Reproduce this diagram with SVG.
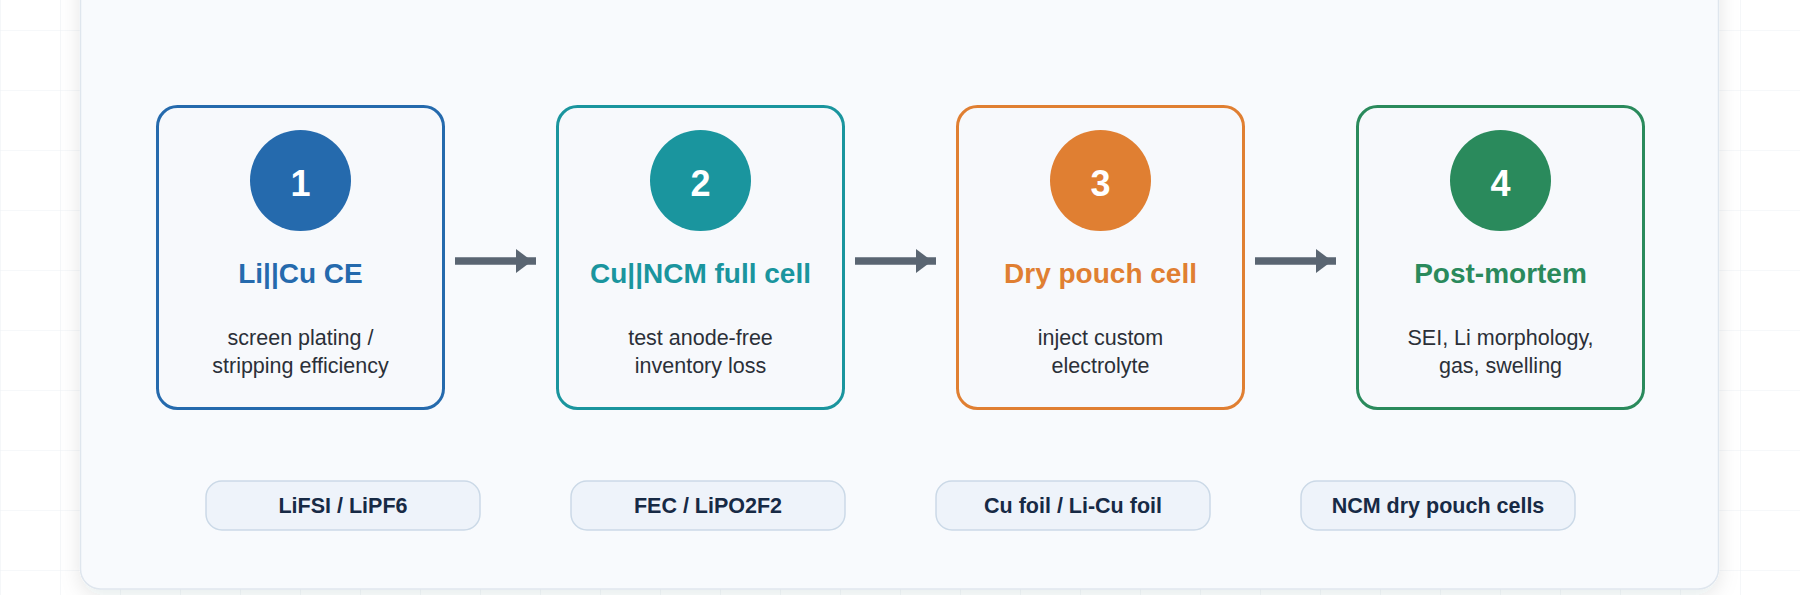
<svg xmlns="http://www.w3.org/2000/svg" width="1800" height="595" viewBox="0 0 1800 595">
  <defs>
    <pattern id="grid" x="0" y="30" width="60" height="60" patternUnits="userSpaceOnUse">
      <path d="M60 0 H0 V60" fill="none" stroke="#eef1f5" stroke-width="1.2"/>
    </pattern>
    <filter id="shadow" x="-5%" y="-10%" width="110%" height="125%">
      <feDropShadow dx="0" dy="6" stdDeviation="10" flood-color="#1e293b" flood-opacity="0.10"/>
    </filter>
    <marker id="arrow" viewBox="0 0 16 24" markerWidth="16" markerHeight="24" refX="20" refY="12" orient="auto" markerUnits="userSpaceOnUse">
      <path d="M0 0 L16 12 L0 24 Z" fill="#5a6572"/>
    </marker>
  </defs>
  <style>
    .box { fill: #f7f9fc; stroke-width: 3; }
    .num { font-family: "Liberation Sans", Arial, sans-serif; font-weight: bold; font-size: 36px; fill: #ffffff; text-anchor: middle; }
    .title { font-family: "Liberation Sans", Arial, sans-serif; font-weight: bold; font-size: 28px; text-anchor: middle; }
    .desc { font-family: "Liberation Sans", Arial, sans-serif; font-size: 21.5px; fill: #2b3038; text-anchor: middle; }
    .pill { fill: #eef3fa; stroke: #cbd9e7; stroke-width: 1.5; }
    .pilltxt { font-family: "Liberation Sans", Arial, sans-serif; font-weight: bold; font-size: 21.5px; fill: #172a45; text-anchor: middle; }
    .conn { stroke: #5a6572; stroke-width: 7.5; fill: none; marker-end: url(#arrow); }
  </style>
  <rect x="0" y="0" width="1800" height="595" fill="#ffffff"/>
  <rect x="0" y="0" width="1800" height="595" fill="url(#grid)"/>
  <rect id="card" x="80.5" y="-40" width="1638" height="629" rx="20" fill="#f8fafd" stroke="#dfe6ee" stroke-width="1.5" filter="url(#shadow)"/>

  <g id="connectors">
    <line class="conn" x1="455" y1="261" x2="536" y2="261"/>
    <line class="conn" x1="855" y1="261" x2="936" y2="261"/>
    <line class="conn" x1="1255" y1="261" x2="1336" y2="261"/>
  </g>

  <g id="node1">
    <rect class="box" x="157.5" y="106.5" width="286" height="302" rx="20" stroke="#256aad"/>
    <circle cx="300.5" cy="180.5" r="50.5" fill="#256aad"/>
    <text class="num" x="300.5" y="196">1</text>
    <text class="title" x="300.5" y="283" fill="#256aad">Li||Cu CE</text>
    <text class="desc" x="300.5" y="344.5">screen plating /</text>
    <text class="desc" x="300.5" y="372.5">stripping efficiency</text>
  </g>
  <g id="node2">
    <rect class="box" x="557.5" y="106.5" width="286" height="302" rx="20" stroke="#1a959e"/>
    <circle cx="700.5" cy="180.5" r="50.5" fill="#1a959e"/>
    <text class="num" x="700.5" y="196">2</text>
    <text class="title" x="700.5" y="283" fill="#1a959e">Cu||NCM full cell</text>
    <text class="desc" x="700.5" y="344.5">test anode-free</text>
    <text class="desc" x="700.5" y="372.5">inventory loss</text>
  </g>
  <g id="node3">
    <rect class="box" x="957.5" y="106.5" width="286" height="302" rx="20" stroke="#e07f32"/>
    <circle cx="1100.5" cy="180.5" r="50.5" fill="#e07f32"/>
    <text class="num" x="1100.5" y="196">3</text>
    <text class="title" x="1100.5" y="283" fill="#e07f32">Dry pouch cell</text>
    <text class="desc" x="1100.5" y="344.5">inject custom</text>
    <text class="desc" x="1100.5" y="372.5">electrolyte</text>
  </g>
  <g id="node4">
    <rect class="box" x="1357.5" y="106.5" width="286" height="302" rx="20" stroke="#2a8a5c"/>
    <circle cx="1500.5" cy="180.5" r="50.5" fill="#2a8a5c"/>
    <text class="num" x="1500.5" y="196">4</text>
    <text class="title" x="1500.5" y="283" fill="#2a8a5c">Post-mortem</text>
    <text class="desc" x="1500.5" y="344.5">SEI, Li morphology,</text>
    <text class="desc" x="1500.5" y="372.5">gas, swelling</text>
  </g>

  <g id="tag1">
    <rect class="pill" x="206" y="481" width="274" height="49" rx="16"/>
    <text class="pilltxt" x="343" y="513">LiFSI / LiPF6</text>
  </g>
  <g id="tag2">
    <rect class="pill" x="571" y="481" width="274" height="49" rx="16"/>
    <text class="pilltxt" x="708" y="513">FEC / LiPO2F2</text>
  </g>
  <g id="tag3">
    <rect class="pill" x="936" y="481" width="274" height="49" rx="16"/>
    <text class="pilltxt" x="1073" y="513">Cu foil / Li-Cu foil</text>
  </g>
  <g id="tag4">
    <rect class="pill" x="1301" y="481" width="274" height="49" rx="16"/>
    <text class="pilltxt" x="1438" y="513">NCM dry pouch cells</text>
  </g>
</svg>
